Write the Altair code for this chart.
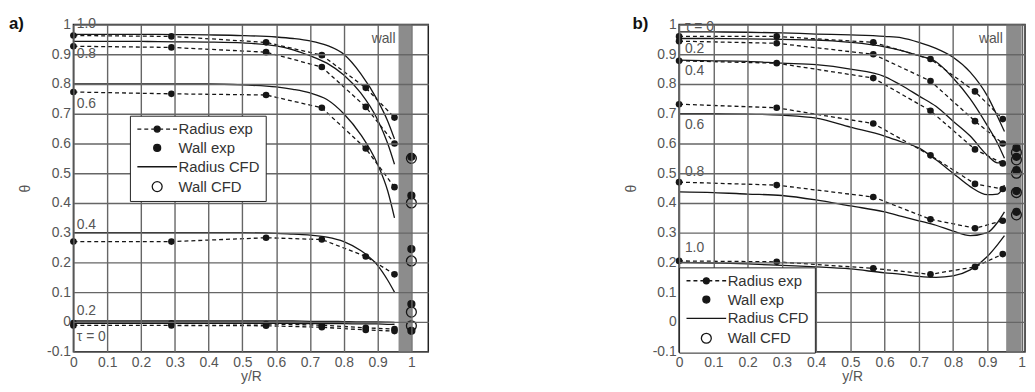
import altair as alt
import pandas as pd

# ---------------- panel a ----------------
A_X_EXP = [0.0, 0.29, 0.57, 0.735, 0.865, 0.95]
A_EXP_10 = [0.963, 0.960, 0.940, 0.897, 0.787, 0.687]
A_EXP_08 = [0.927, 0.923, 0.907, 0.857, 0.723, 0.600]
A_EXP_06 = [0.773, 0.767, 0.763, 0.720, 0.583, 0.453]
A_EXP_04 = [0.270, 0.270, 0.283, 0.277, 0.220, 0.160]
A_EXP_02 = [-0.004, -0.005, -0.007, -0.011, -0.020, -0.024]
A_EXP_00 = [-0.012, -0.012, -0.013, -0.018, -0.027, -0.031]

A_X_CFD = [0.0, 0.1, 0.2, 0.3, 0.4, 0.5, 0.6, 0.65, 0.7, 0.75, 0.8, 0.85, 0.9, 0.93, 0.95]
A_CFD_10 = [0.967, 0.967, 0.967, 0.966, 0.965, 0.963, 0.958, 0.953, 0.945, 0.930, 0.900, 0.835, 0.745, 0.675, 0.615]
A_CFD_08 = [0.943, 0.943, 0.943, 0.942, 0.941, 0.938, 0.928, 0.915, 0.895, 0.870, 0.830, 0.770, 0.680, 0.600, 0.530]
A_CFD_06 = [0.800, 0.800, 0.800, 0.800, 0.800, 0.797, 0.790, 0.782, 0.770, 0.748, 0.700, 0.630, 0.530, 0.440, 0.350]
A_CFD_04 = [0.300, 0.300, 0.300, 0.300, 0.300, 0.300, 0.298, 0.295, 0.292, 0.285, 0.270, 0.240, 0.190, 0.140, 0.100]
A_CFD_02 = [0.003, 0.003, 0.003, 0.003, 0.003, 0.003, 0.003, 0.003, 0.002, 0.002, 0.001, 0.000, 0.000, -0.001, -0.002]
A_CFD_00 = [-0.005, -0.005, -0.005, -0.005, -0.005, -0.005, -0.005, -0.005, -0.006, -0.006, -0.006, -0.007, -0.007, -0.008, -0.008]

A_WALL_X = 1.0
A_WALL_EXP = [0.555, 0.425, 0.245, 0.060, -0.030]
A_WALL_CFD = [0.550, 0.400, 0.205, 0.033, -0.013]

A_LABELS = ["1.0", "0.8", "0.6", "0.4", "0.2", "\u03c4 = 0"]
A_LABEL_Y = [1.003, 0.900, 0.733, 0.327, 0.037, -0.050]
A_LABEL_X = 0.01
A_WALL_TEXT = (0.953, 0.95)
A_BAND = (0.962, 1.0)
A_XMAX = 1.05

# ---------------- panel b ----------------
B_X_EXP = [0.0, 0.285, 0.567, 0.734, 0.864, 0.945]
B_EXP_00 = [0.960, 0.960, 0.940, 0.884, 0.775, 0.682]
B_EXP_02 = [0.944, 0.937, 0.900, 0.810, 0.675, 0.600]
B_EXP_04 = [0.878, 0.870, 0.820, 0.710, 0.580, 0.533]
B_EXP_06 = [0.732, 0.720, 0.667, 0.560, 0.464, 0.447]
B_EXP_08 = [0.470, 0.460, 0.420, 0.345, 0.315, 0.340]
B_EXP_10 = [0.205, 0.202, 0.180, 0.160, 0.185, 0.228]

B_X_CFD = [0.0, 0.1, 0.2, 0.3, 0.4, 0.5, 0.6, 0.65, 0.7, 0.75, 0.8, 0.85, 0.9, 0.93, 0.95]
B_CFD_00 = [0.975, 0.975, 0.974, 0.972, 0.968, 0.965, 0.960, 0.955, 0.940, 0.920, 0.890, 0.840, 0.760, 0.690, 0.640]
B_CFD_02 = [0.953, 0.953, 0.952, 0.950, 0.948, 0.940, 0.925, 0.912, 0.895, 0.875, 0.820, 0.750, 0.660, 0.600, 0.550]
B_CFD_04 = [0.880, 0.878, 0.876, 0.870, 0.865, 0.850, 0.825, 0.795, 0.760, 0.725, 0.675, 0.625, 0.560, 0.535, 0.535]
B_CFD_06 = [0.700, 0.700, 0.699, 0.695, 0.685, 0.655, 0.625, 0.605, 0.585, 0.545, 0.500, 0.455, 0.428, 0.430, 0.460]
B_CFD_08 = [0.437, 0.435, 0.430, 0.425, 0.410, 0.390, 0.370, 0.355, 0.340, 0.325, 0.305, 0.290, 0.300, 0.335, 0.370]
B_CFD_10 = [0.200, 0.198, 0.195, 0.190, 0.185, 0.178, 0.165, 0.160, 0.153, 0.150, 0.155, 0.175, 0.220, 0.260, 0.290]

B_WALL_X = 0.985
B_WALL_EXP = [0.585, 0.555, 0.510, 0.440, 0.370]
B_WALL_CFD = [0.570, 0.545, 0.500, 0.435, 0.360]

B_LABELS = ["\u03c4 = 0", "0.2", "0.4", "0.6", "0.8", "1.0"]
B_LABEL_Y = [0.990, 0.917, 0.845, 0.663, 0.503, 0.248]
B_LABEL_X = 0.017
B_WALL_TEXT = (0.945, 0.95)
B_BAND = (0.955, 1.0)
B_XMAX = 1.01

TICKS_X = [0.0, 0.1, 0.2, 0.3, 0.4, 0.5, 0.6, 0.7, 0.8, 0.9, 1.0]
TICKS_Y = [-0.1, 0.0, 0.1, 0.2, 0.3, 0.4, 0.5, 0.6, 0.7, 0.8, 0.9, 1.0]

KINDS = ["Radius exp", "Wall exp", "Radius CFD", "Wall CFD"]
SYMBOLS = [
    "M-4,0H-3.2M-2.6,0H-1.8M-1.2,0H-0.6M0.6,0H1.2M1.8,0H2.6M3.2,0H4"
    "M0.6,0A0.6,0.6 0 1,1 -0.6,0A0.6,0.6 0 1,1 0.6,0Z",
    "M0.7,0A0.7,0.7 0 1,1 -0.7,0A0.7,0.7 0 1,1 0.7,0Z",
    "M-4,0H4",
    "M1,0A1,1 0 1,1 -1,0A1,1 0 1,1 1,0Z",
]
FILLS = ["#161616", "#161616", "#161616", "rgba(255,255,255,0)"]
STROKES = ["#161616", "#161616", "#161616", "#161616"]

FONT = "Liberation Sans"
INK = "#161616"
GREY_TXT = "#555555"
LABEL_EXPR = ("datum.value < 0 ? '-' + format(-datum.value, '.1~f') : "
              "format(datum.value, '.1~f')")


def long_df(xs, series):
    rows = []
    for tau, ys in series:
        for x, y in zip(xs, ys):
            rows.append({"x": x, "y": y, "tau": tau})
    return pd.DataFrame(rows)


def make_panel(tag, exp_x, exp_series, cfd_x, cfd_series, wall_x, wall_exp,
               wall_cfd, labels, label_x, label_y, wall_text, band, xmax,
               width, legend_xy, tag_dx):
    xaxis = alt.Axis(values=TICKS_X, title="y/R", grid=True, ticks=False,
                     domain=False, labelExpr=LABEL_EXPR, labelFontSize=14,
                     labelColor=GREY_TXT, labelPadding=4, labelFont=FONT,
                     titleFont=FONT, titleFontSize=14, titleColor=GREY_TXT,
                     titleFontWeight="normal", titlePadding=0,
                     gridColor="#666666", gridWidth=1.4, gridOpacity=1,
                     zindex=1, labelFlush=False, labelOverlap=False)
    yaxis = alt.Axis(values=TICKS_Y, title="\u03b8", grid=True, ticks=False,
                     domain=False, labelExpr=LABEL_EXPR, labelFontSize=14,
                     labelColor=GREY_TXT, labelPadding=3, labelFont=FONT,
                     titleFont=FONT, titleFontSize=14, titleColor=GREY_TXT,
                     titleFontWeight="normal", titlePadding=13,
                     minExtent=28, maxExtent=28,
                     gridColor="#666666", gridWidth=1.4, gridOpacity=1,
                     zindex=1, labelFlush=False, labelOverlap=False)
    xs = alt.Scale(domain=[0, xmax], nice=False, zero=False)
    ys = alt.Scale(domain=[-0.1, 1.0], nice=False, zero=False)
    X = alt.X("x:Q", scale=xs, axis=xaxis)
    Y = alt.Y("y:Q", scale=ys, axis=yaxis)

    band_df = pd.DataFrame({"x": [band[0]], "x2": [band[1]],
                            "y": [-0.1], "y2": [1.0]})
    band_layer = alt.Chart(band_df).mark_rect(color="#8c8c8c").encode(
        x=X, x2="x2:Q", y=Y, y2="y2:Q")

    cfd_df = long_df(cfd_x, cfd_series)
    cfd_layer = alt.Chart(cfd_df).mark_line(
        color=INK, strokeWidth=1.3, interpolate="monotone").encode(
        x=X, y=Y, detail="tau:N")

    exp_df = long_df(exp_x, exp_series)
    exp_line = alt.Chart(exp_df).mark_line(
        color=INK, strokeWidth=1.3, strokeDash=[4, 3]).encode(
        x=X, y=Y, detail="tau:N")
    exp_pts = alt.Chart(exp_df).mark_point(
        filled=True, color=INK, size=45, opacity=1).encode(x=X, y=Y)

    wall_df = pd.DataFrame(
        {"x": [wall_x] * (len(wall_cfd) + len(wall_exp)),
         "y": wall_cfd + wall_exp,
         "kind": ["Wall CFD"] * len(wall_cfd) + ["Wall exp"] * len(wall_exp)})
    leg = alt.Legend(title=None, orient="none", legendX=legend_xy[0],
                     legendY=legend_xy[1], symbolSize=100,
                     symbolStrokeWidth=1.3, symbolStrokeColor=INK,
                     symbolOffset=14, labelOffset=14, labelFontSize=15,
                     labelFont=FONT, labelColor="#333333",
                     strokeColor="#222222", fillColor="#ffffff", padding=6,
                     rowPadding=3, zindex=2, symbolOpacity=1)
    wall_layer = alt.Chart(wall_df).mark_point(
        filled=True, size=100, strokeWidth=1.3, opacity=1).encode(
        x=X, y=Y,
        shape=alt.Shape("kind:N", scale=alt.Scale(domain=KINDS, range=SYMBOLS),
                        legend=leg),
        fill=alt.Fill("kind:N", scale=alt.Scale(domain=KINDS, range=FILLS),
                      legend=leg),
        stroke=alt.Stroke("kind:N", scale=alt.Scale(domain=KINDS, range=STROKES),
                          legend=leg))

    lab_df = pd.DataFrame({"x": [label_x] * len(labels), "y": label_y,
                           "t": labels})
    lab_layer = alt.Chart(lab_df).mark_text(
        align="left", baseline="middle", fontSize=14, font=FONT,
        color=GREY_TXT).encode(x=X, y=Y, text="t:N")

    wall_txt_df = pd.DataFrame({"x": [wall_text[0]], "y": [wall_text[1]],
                                "t": ["wall"]})
    wall_txt = alt.Chart(wall_txt_df).mark_text(
        align="right", baseline="middle", fontSize=14, font=FONT,
        color=GREY_TXT).encode(x=X, y=Y, text="t:N")

    tag_df = pd.DataFrame({"t": [tag]})
    tag_layer = alt.Chart(tag_df).mark_text(
        align="left", baseline="top", fontSize=17, fontWeight="bold",
        font=FONT, color="#111111").encode(
        x=alt.value(tag_dx), y=alt.value(-8), text="t:N")

    return alt.layer(band_layer, cfd_layer, exp_line, exp_pts, wall_layer,
                     lab_layer, wall_txt, tag_layer).properties(
        width=width, height=330)


panel_a = make_panel(
    "a)", A_X_EXP,
    [("1.0", A_EXP_10), ("0.8", A_EXP_08), ("0.6", A_EXP_06),
     ("0.4", A_EXP_04), ("0.2", A_EXP_02), ("0", A_EXP_00)],
    A_X_CFD,
    [("1.0", A_CFD_10), ("0.8", A_CFD_08), ("0.6", A_CFD_06),
     ("0.4", A_CFD_04), ("0.2", A_CFD_02), ("0", A_CFD_00)],
    A_WALL_X, A_WALL_EXP, A_WALL_CFD, A_LABELS, A_LABEL_X, A_LABEL_Y,
    A_WALL_TEXT, A_BAND, A_XMAX, 358, (57, 92), -65)

panel_b = make_panel(
    "b)", B_X_EXP,
    [("0", B_EXP_00), ("0.2", B_EXP_02), ("0.4", B_EXP_04),
     ("0.6", B_EXP_06), ("0.8", B_EXP_08), ("1.0", B_EXP_10)],
    B_X_CFD,
    [("0", B_CFD_00), ("0.2", B_CFD_02), ("0.4", B_CFD_04),
     ("0.6", B_CFD_06), ("0.8", B_CFD_08), ("1.0", B_CFD_10)],
    B_WALL_X, B_WALL_EXP, B_WALL_CFD, B_LABELS, B_LABEL_X, B_LABEL_Y,
    B_WALL_TEXT, B_BAND, B_XMAX, 349, (0, 245), -47)

chart = alt.hconcat(panel_a, panel_b, spacing=196).resolve_scale(
    x="independent", y="independent", shape="independent",
    fill="independent", stroke="independent").resolve_legend(
    shape="independent", fill="independent", stroke="independent").properties(
    padding={"left": 0, "top": 5, "right": 0, "bottom": 0}).configure(
    font=FONT).configure_view(stroke="#222222", strokeWidth=1.5)

chart.save("out.html", embed_options={"renderer": "svg", "actions": False})
